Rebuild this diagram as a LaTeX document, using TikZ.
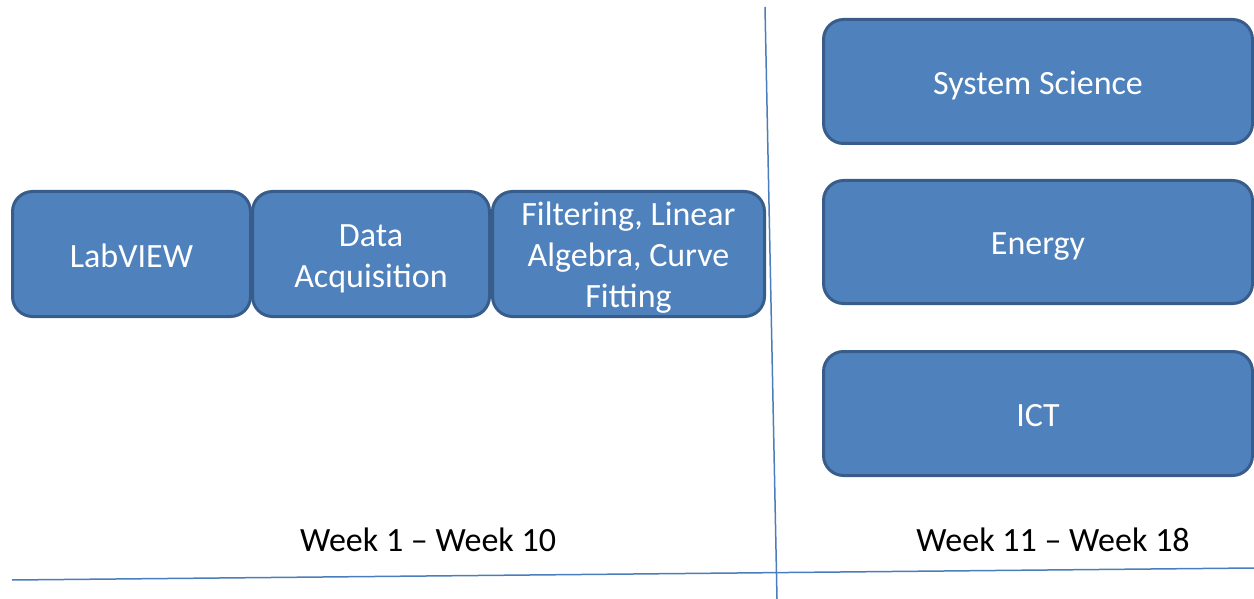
\documentclass[tikz,border=0pt]{standalone}
\usepackage{fontspec}
\setmainfont{Carlito}
\definecolor{boxfill}{HTML}{4F81BD}
\definecolor{boxedge}{HTML}{385D8A}
\definecolor{rule}{HTML}{4A7EBB}
% line strut, so every line sits the same in its box
\newcommand{\ls}{\rule[-2.5pt]{0pt}{18pt}}
\begin{document}
\begin{tikzpicture}[x=0.5pt,y=-0.5pt,
    every node/.style={font=\fontsize{17}{20.5}\selectfont},
    topic/.style={draw=boxedge, fill=boxfill, line width=1.5pt, rounded corners=10pt,
        text=white, align=center, inner sep=0pt, minimum height=62.5pt}]
                \useasboundingbox (0,0) rectangle (1254,599);

                % Divider ends
                \coordinate (vtop) at (765,7);
                \coordinate (vbot) at (777,599);
                \coordinate (hleft) at (12,580);
                \coordinate (hright) at (1254,568);

                % First block (weeks 1-10)
                \node[topic, minimum width=119pt] (lab) at (131.5,254) {\ls LabVIEW};
                \node[topic, minimum width=118.5pt] (daq) at (371,254) {\ls Data\\\ls Acquisition};
                \node[topic, minimum width=136pt] (filt) at (628.5,254) {\ls Filtering, Linear\\\ls Algebra, Curve\\\ls Fitting};

                % Second block (weeks 11-18)
                \node[topic, minimum width=214.5pt, minimum height=62pt] (sys) at (1038,81.5) {\ls System Science};
                \node[topic, minimum width=214.5pt, minimum height=61.5pt] (energy) at (1038,242) {\ls Energy};
                \node[topic, minimum width=214.5pt, minimum height=62pt] (ict) at (1038,413.5) {\ls ICT};

                % Period labels
                \node (weeka) at (428,540) {Week 1 -- Week 10};
                \node (weekb) at (1053,540) {Week 11 -- Week 18};

                % Dividers
                \draw[rule, line width=0.75pt] (vtop) -- (vbot);
                \draw[rule, line width=0.75pt] (hleft) -- (hright);
            \end{tikzpicture}
\end{document}
